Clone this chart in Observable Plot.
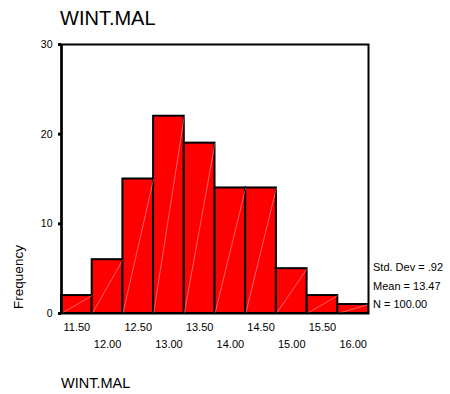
<!DOCTYPE html>
<html>
<head>
<meta charset="utf-8">
<script src="https://cdn.jsdelivr.net/npm/d3@7"></script>
<script src="https://cdn.jsdelivr.net/npm/@observablehq/plot@0.6"></script>
<style>
  body { margin: 0; background: #fff; }
  #chart { position: relative; width: 450px; height: 394px; font-family: "Liberation Sans", Arial, sans-serif; color: #000; }
  #chart svg { position: absolute; left: 0; top: 0; }
  .t { position: absolute; white-space: nowrap; line-height: 1; }
  #title { left: 60px; top: 8px; font-size: 20px; }
  #ylabel { left: 19px; top: 277px; font-size: 13.5px; transform: translate(-50%, -50%) rotate(-90deg); }
  #stats { left: 373px; top: 258px; font-size: 11px; line-height: 18.5px; }
  #foot { left: 61px; top: 376px; font-size: 14.5px; }
</style>
</head>
<body>
<div id="chart">
  <div class="t" id="title">WINT.MAL</div>
  <div class="t" id="ylabel">Frequency</div>
  <div class="t" id="stats"></div>
  <div class="t" id="foot">WINT.MAL</div>
</div>
<script>
// Histogram of WINT.MAL: bin midpoints and their frequencies
const binMidpoints = [11.5, 12.0, 12.5, 13.0, 13.5, 14.0, 14.5, 15.0, 15.5, 16.0];
const frequencies = [2, 6, 15, 22, 19, 14, 14, 5, 2, 1];
const binWidth = 0.5;
const yTicks = [0, 10, 20, 30];
const statLines = ["Std. Dev = .92", "Mean = 13.47", "N = 100.00"];

const bins = binMidpoints.map((m, i) => ({
  lo: m - binWidth / 2,
  hi: m + binWidth / 2,
  mid: m,
  count: frequencies[i]
}));

const upperRow = binMidpoints.filter((_, i) => i % 2 === 0);
const lowerRow = binMidpoints.filter((_, i) => i % 2 === 1);
const fmt = d3.format(".2f");

const plot = Plot.plot({
  width: 450,
  height: 394,
  marginLeft: 61,
  marginRight: 82,
  marginTop: 44,
  marginBottom: 81,
  style: { fontFamily: "'Liberation Sans', Arial, sans-serif", fontSize: "11px", background: "white" },
  x: { domain: [11.25, 16.25] },
  y: { domain: [0, 30] },
  marks: [
    Plot.rectY(bins, { x1: "lo", x2: "hi", y: "count", fill: "#ff0000", stroke: "black", strokeWidth: 2 }),
    Plot.link(bins, { x1: "lo", y1: () => 0, x2: "hi", y2: "count", stroke: "white", strokeOpacity: 0.55, strokeWidth: 0.7 }),
    Plot.frame({ stroke: "black", strokeWidth: 2 }),
    Plot.ruleX([11.25], { stroke: "black", strokeWidth: 2.5 }),
    Plot.axisY({ ticks: yTicks, tickSize: 3, strokeWidth: 3, tickPadding: 6, fontSize: 10.5, label: null }),
    Plot.axisX({ ticks: upperRow, tickSize: 0, tickPadding: 10, tickFormat: fmt, label: null }),
    Plot.axisX({ ticks: lowerRow, tickSize: 0, tickPadding: 27, tickFormat: fmt, label: null })
  ]
});

document.getElementById("chart").prepend(plot);
document.getElementById("stats").innerHTML = statLines.join("<br>");
</script>
</body>
</html>
